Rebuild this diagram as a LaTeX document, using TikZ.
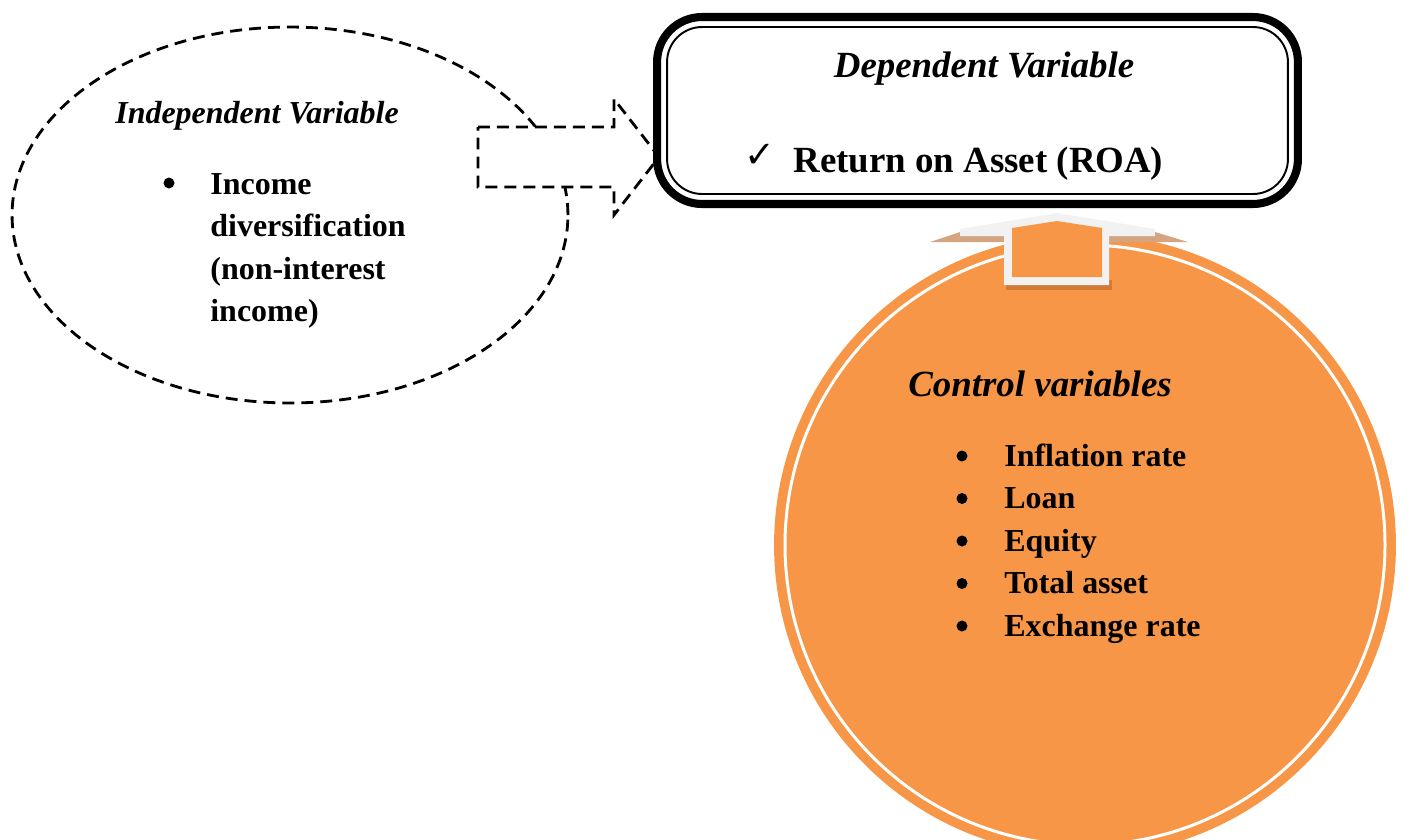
\documentclass[tikz,border=0pt]{standalone}
\usepackage{fontspec}
\setmainfont{Liberation Serif}
\newfontfamily\symfont{DejaVu Sans}
\usetikzlibrary{calc}
\usetikzlibrary{positioning}
\usetikzlibrary{shapes.geometric}

\definecolor{ctrlorange}{HTML}{F79646}
\definecolor{arrowgray}{HTML}{F2F2F2}
\definecolor{shadowtan}{HTML}{D5A582}
\definecolor{shadoworange}{HTML}{D27A34}

\tikzset{
  itemtext/.style={anchor=base west, inner sep=0pt, font=\fontsize{18.2}{22}\selectfont\bfseries},
  itemdot/.style={circle, fill=black, inner sep=0pt, minimum size=0.22cm},
  smallhead/.style={inner sep=0pt, font=\fontsize{18.2}{22}\selectfont\bfseries\itshape},
  bighead/.style={inner sep=0pt, font=\fontsize{21}{25}\selectfont\bfseries\itshape},
  dashline/.style={dash pattern=on 6.8pt off 4pt, line width=1.6pt}
}

\begin{document}
\begin{tikzpicture}[x=0.02cm, y=-0.02cm]
  \useasboundingbox (0,0) rectangle (1413,839);

  % independent variable
  \node[ellipse, draw, dashline, minimum width=11.12cm, minimum height=7.52cm] (indep) at (290,215) {};
  \node[smallhead] (indeptitle) at (257,116) {Independent Variable};
  \node[itemdot] (indepdot) at (169,183) {};
  \foreach \txt [count=\i from 0] in {Income, diversification, {(non-interest}, {income)}}
    \node[itemtext] (inc\i) at (210,194+42.5*\i) {\txt};

  % control variables
  \node[circle, fill=ctrlorange, inner sep=0pt, minimum size=12.44cm] (ctrl) at (1085,545) {};
  \draw[white, line width=1.7pt] (ctrl.center) circle[radius=300];
  \node[bighead] (ctrltitle) at (1040,384) {Control variables};
  \foreach \txt [count=\i from 0] in {Inflation rate, Loan, Equity, Total asset, Exchange rate} {
    \node[itemtext] (ctrl\i) at (1004,466+42.5*\i) {\txt};
    \node[itemdot] (ctrldot\i) at (962,456+42.5*\i) {};
  }

  % up arrow
  \fill[shadowtan] (930,242) -- (960,232) -- (1155,232) -- (1188,242) -- cycle;
  \fill[shadoworange] (1006,280) rectangle (1112,290);
  \fill[arrowgray] (1057,213) -- (1155,229) -- (1155,236) -- (1109,236) -- (1109,285)
    -- (1004,285) -- (1004,236) -- (960,236) -- (960,229) -- cycle;
  \fill[ctrlorange] (1012,228) -- (1057,221) -- (1102,228) -- (1102,277) -- (1012,277) -- cycle;

  % dashed arrow
  \coordinate (tip) at (659,157);
  \draw[dashline, fill=white] (478,127) -- (614,127) -- (614,99) -- (tip)
    -- (614,215) -- (614,187) -- (478,187) -- cycle;

  % dependent variable
  \node[draw, line width=4.6pt, outer sep=0pt, rounded corners=0.9cm,
        minimum width=12.82cm, minimum height=3.74cm] (dep) at (977.5,110.5) {};
  \draw[line width=1.1pt, rounded corners=0.7cm]
    ($(dep.north west)+(10,10)$) rectangle ($(dep.south east)+(-10,-10)$);
  \node[bighead] (deptitle) at (984,69) {Dependent Variable};
  \node[itemtext, font=\fontsize{21}{25}\selectfont\bfseries] (roa) at (793,172) {Return on Asset (ROA)};
  \node[inner sep=0pt, font=\symfont\fontsize{21}{24}\selectfont] (tick) at (760,156) {✓};
\end{tikzpicture}
\end{document}
